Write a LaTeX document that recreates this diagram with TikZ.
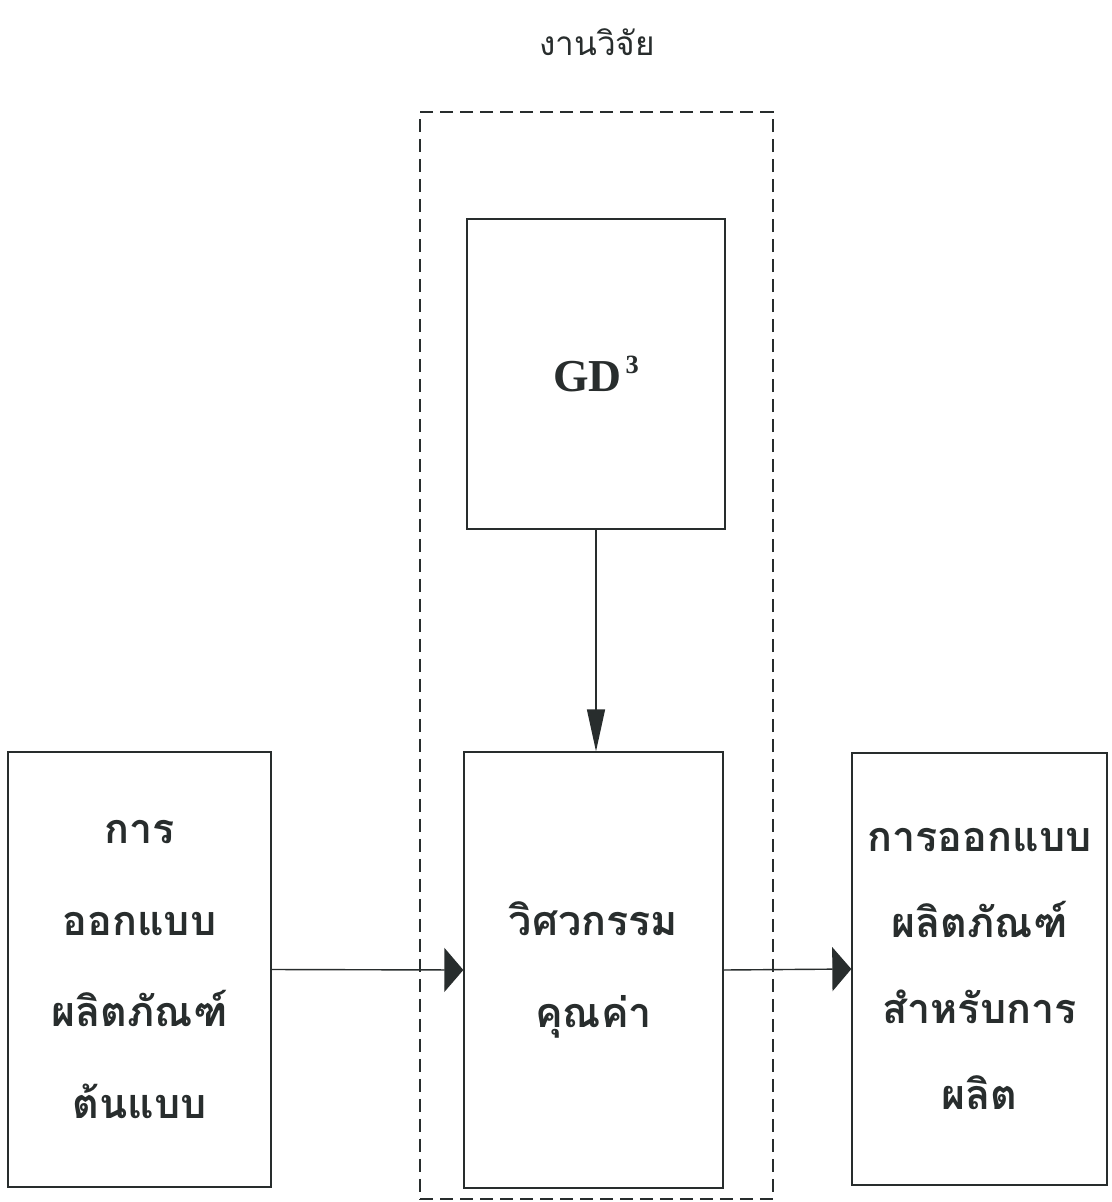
\documentclass[tikz,border=0pt]{standalone}
\usepackage{fontspec}
\setmainfont{Liberation Serif}
\newfontfamily\thaifont[Script=Thai]{Loma}
\usetikzlibrary{arrows.meta}
\definecolor{ink}{RGB}{40,45,45}
\begin{document}
\begin{tikzpicture}[x=0.02cm,y=-0.02cm,
  box/.style={draw=ink,line width=0.8pt,inner sep=0pt,align=center,text=ink},
  thaitext/.style={font=\thaifont\bfseries\fontsize{23.5}{52}\selectfont},
  frame/.style={draw=ink,line width=0.8pt,dash pattern=on 0.26cm off 0.14cm,inner sep=0pt},
  vtip/.style={-{Triangle[length=0.84cm,width=0.36cm]},draw=ink,fill=ink,line width=0.8pt},
  htip/.style={-{Triangle[length=0.38cm,width=0.88cm]},draw=ink,fill=ink,line width=0.8pt}]
\useasboundingbox (0,0) rectangle (1111,1202);
\fill[white] (0,0) rectangle (1111,1202);

\node[text=ink,font=\thaifont\fontsize{19}{24}\selectfont] (title) at (597,42) {งานวิจัย};

\node[frame,minimum width=7.06cm,minimum height=21.74cm] (research) at (596.5,655.5) {};

\node[box,minimum width=5.16cm,minimum height=6.2cm,
  font=\bfseries\fontsize{26}{30}\selectfont] (gd) at (596,374)
  {GD\kern0.08em\raisebox{0.85ex}{\fontsize{15}{15}\selectfont 3}};

\node[box,thaitext,minimum width=5.26cm,minimum height=8.7cm] (proto) at (139.5,969.5)
  {การ\\ออกแบบ\\ผลิตภัณฑ์\\ต้นแบบ};

\node[box,thaitext,minimum width=5.18cm,minimum height=8.72cm] (ve) at (593.5,970)
  {วิศวกรรม\\คุณค่า};

\node[box,minimum width=5.1cm,minimum height=8.64cm,
  font=\thaifont\bfseries\fontsize{23.5}{49}\selectfont] (prod) at (979.5,969)
  {การออกแบบ\\ผลิตภัณฑ์\\สำหรับการ\\ผลิต};

\draw[vtip] (gd.south) -- (gd.south |- ve.north);
\draw[htip] (proto.east) -- (ve.west);
\draw[htip] (ve.east) -- (prod.west);
\end{tikzpicture}
\end{document}
